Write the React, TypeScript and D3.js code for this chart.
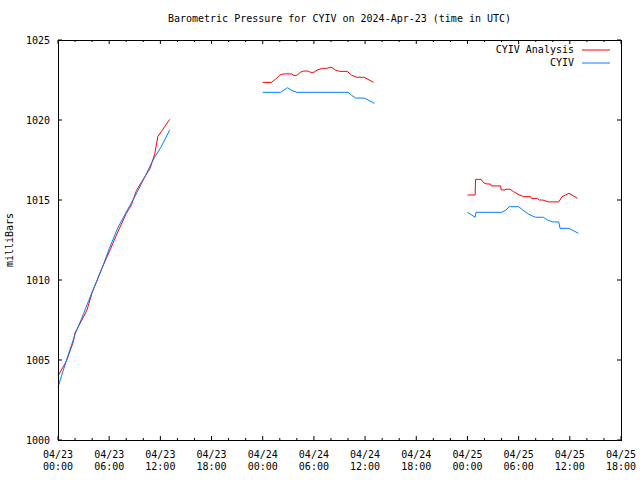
import React from "react";
import * as d3 from "d3";

const title = "Barometric Pressure for CYIV on 2024-Apr-23 (time in UTC)";
const yAxisLabel = "milliBars";
const seriesNames = ["CYIV Analysis", "CYIV"];
const seriesColors = ["#ff0000", "#0080ff"];

// hours since 2024-04-23 00:00 UTC; null value = gap
const analysisHours = [
  0, 1, 1.8, 2, 2.8, 3.4, 4, 5, 6, 7, 8, 8.6, 9.2, 10, 10.8, 11.35, 11.7, 12.1, 13.1,
  18,
  24, 25, 25.5, 26, 26.4, 27.4, 27.6, 28, 28.4, 28.8, 29.3, 29.6, 30, 30.4, 31, 31.5, 32, 32.5, 33, 33.9, 34.4, 35, 35.9, 37,
  42,
  48, 48.9, 48.95, 49.6, 49.9, 50.3, 50.7, 50.8, 51.9, 51.95, 52.4, 52.5, 53, 53.4, 54.1, 54.6, 55.4, 55.5, 56.2, 56.4, 56.8, 57.5, 58.7, 59.1, 59.9, 60.9,
];
const analysisValues = [
  1004.0, 1004.95, 1006.14, 1006.7, 1007.5, 1008.13, 1009.2, 1010.55, 1011.75, 1013.0, 1014.15, 1014.7, 1015.6, 1016.3, 1016.98, 1017.9, 1018.96, 1019.27, 1020.04,
  null,
  1022.35, 1022.35, 1022.55, 1022.8, 1022.88, 1022.88, 1022.79, 1022.79, 1022.98, 1023.06, 1023.06, 1022.98, 1022.98, 1023.13, 1023.23, 1023.23, 1023.31, 1023.13, 1023.04, 1023.04, 1022.81, 1022.67, 1022.67, 1022.35,
  null,
  1015.31, 1015.31, 1016.29, 1016.29, 1016.08, 1016.0, 1016.0, 1015.88, 1015.88, 1015.63, 1015.63, 1015.67, 1015.67, 1015.52, 1015.31, 1015.21, 1015.21, 1015.1, 1015.1, 1015.0, 1015.0, 1014.88, 1014.88, 1015.21, 1015.42, 1015.1,
];

const obsHours = [
  0, 1, 2, 3, 4, 5, 6, 7, 8, 9, 10, 11, 11.35, 12.1, 13.1,
  18,
  24, 26.1, 26.9, 27.4, 28, 34, 34.4, 34.9, 35.9, 37.1,
  42,
  48, 48.9, 49, 52, 52.5, 52.9, 54, 54.5, 55, 55.6, 56, 56.9, 57.4, 58, 58.7, 58.85, 59.9, 61,
];
const obsValues = [
  1003.3, 1005.0, 1006.6, 1007.9, 1009.25, 1010.5, 1011.95, 1013.25, 1014.25, 1015.2, 1016.25, 1017.35, 1017.7, 1018.33, 1019.38,
  null,
  1021.73, 1021.73, 1022.02, 1021.85, 1021.73, 1021.73, 1021.55, 1021.37, 1021.37, 1021.04,
  null,
  1014.23, 1013.92, 1014.23, 1014.23, 1014.37, 1014.58, 1014.58, 1014.37, 1014.17, 1014.0, 1013.92, 1013.92, 1013.75, 1013.63, 1013.63, 1013.23, 1013.23, 1012.92,
];

const xTickHours = [0, 6, 12, 18, 24, 30, 36, 42, 48, 54, 60, 66];
const xTickDates = ["04/23", "04/23", "04/23", "04/23", "04/24", "04/24", "04/24", "04/24", "04/25", "04/25", "04/25", "04/25"];
const xTickTimes = ["00:00", "06:00", "12:00", "18:00", "00:00", "06:00", "12:00", "18:00", "00:00", "06:00", "12:00", "18:00"];
const yTicks = [1000, 1005, 1010, 1015, 1020, 1025];

export default function App() {
  const W = 640, H = 480;
  const left = 58, right = 621, top = 40, bottom = 440;
  const x = d3.scaleLinear().domain([0, 66]).range([left, right]);
  const y = d3.scaleLinear().domain([1000, 1025]).range([bottom, top]);
  const minorHours = d3.range(0, 67, 2).filter((h) => h % 6 !== 0);
  const font = "'DejaVu Sans Mono', monospace";

  const mkLine = (hours: number[], vals: (number | null)[]) => {
    const pts = hours.map((h, i) => [h, vals[i]] as [number, number | null]);
    return d3
      .line<[number, number | null]>()
      .defined((d) => d[1] !== null)
      .x((d) => x(d[0]))
      .y((d) => y(d[1] as number))(pts) || "";
  };

  const major = 4, minor = 2;

  return (
    <svg width={W} height={H} style={{ position: "absolute", left: 0, top: 0, background: "#fff" }}>
      <rect x={0} y={0} width={W} height={H} fill="#fff" />
      <text x={(left + right) / 2} y={19} fontFamily={font} fontSize={10} textAnchor="middle" dominantBaseline="middle">
        {title}
      </text>
      <text
        transform={`translate(10,${(top + bottom) / 2}) rotate(-90)`}
        fontFamily={font}
        fontSize={10}
        textAnchor="middle"
        dominantBaseline="middle"
      >
        {yAxisLabel}
      </text>

      {/* y ticks */}
      {yTicks.map((t) => (
        <g key={"y" + t}>
          <line x1={left} x2={left + major} y1={y(t)} y2={y(t)} stroke="#000" />
          <line x1={right} x2={right - major} y1={y(t)} y2={y(t)} stroke="#000" />
          <text x={50} y={y(t) + 1} fontFamily={font} fontSize={10} textAnchor="end" dominantBaseline="middle">
            {t}
          </text>
        </g>
      ))}

      {/* x ticks */}
      {xTickHours.map((h, i) => (
        <g key={"x" + h}>
          <line x1={x(h)} x2={x(h)} y1={bottom} y2={bottom - major} stroke="#000" />
          <line x1={x(h)} x2={x(h)} y1={top} y2={top + major} stroke="#000" />
          <text x={x(h)} y={455} fontFamily={font} fontSize={10} textAnchor="middle" dominantBaseline="middle">
            {xTickDates[i]}
          </text>
          <text x={x(h)} y={467} fontFamily={font} fontSize={10} textAnchor="middle" dominantBaseline="middle">
            {xTickTimes[i]}
          </text>
        </g>
      ))}
      {minorHours.map((h) => (
        <g key={"m" + h}>
          <line x1={x(h)} x2={x(h)} y1={bottom} y2={bottom - minor} stroke="#000" />
          <line x1={x(h)} x2={x(h)} y1={top} y2={top + minor} stroke="#000" />
        </g>
      ))}

      {/* data */}
      <path d={mkLine(analysisHours, analysisValues)} fill="none" stroke={seriesColors[0]} strokeWidth={1} />
      <path d={mkLine(obsHours, obsValues)} fill="none" stroke={seriesColors[1]} strokeWidth={1} />

      {/* frame */}
      <rect x={left + 0.5} y={top + 0.5} width={right - left} height={bottom - top} fill="none" stroke="#000" strokeWidth={1} />

      {/* legend */}
      {seriesNames.map((n, i) => (
        <g key={n}>
          <text x={574} y={50 + i * 13} fontFamily={font} fontSize={10} textAnchor="end" dominantBaseline="middle">
            {n}
          </text>
          <line x1={582} x2={610} y1={50 + i * 13} y2={50 + i * 13} stroke={seriesColors[i]} strokeWidth={1} />
        </g>
      ))}
    </svg>
  );
}
